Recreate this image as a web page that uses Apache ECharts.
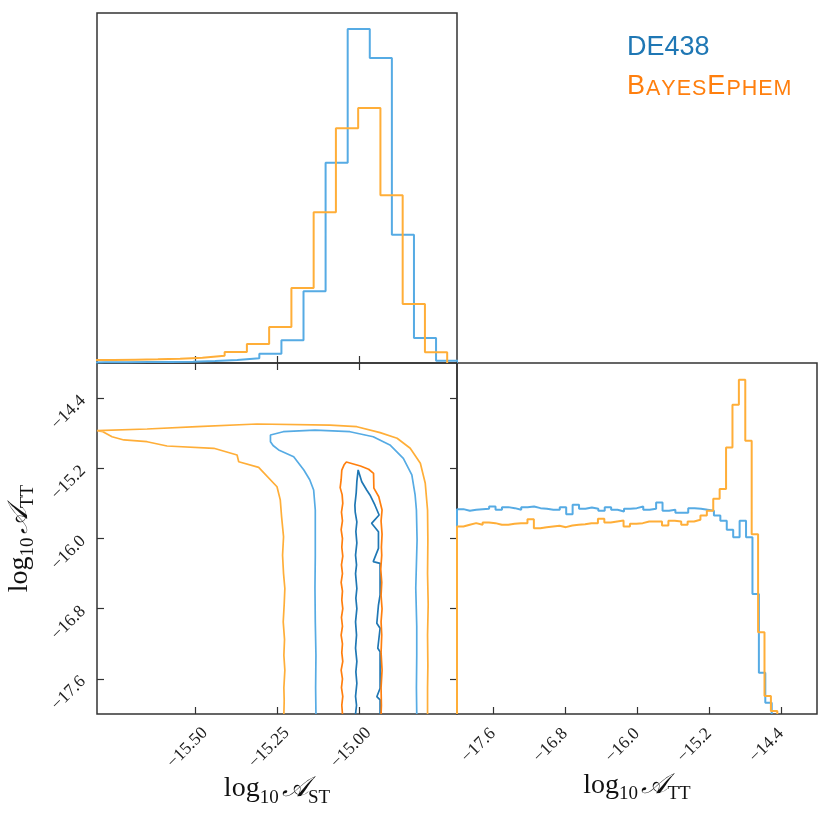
<!DOCTYPE html>
<html>
<head>
    <meta charset="utf-8">
    <title>corner</title>
    <script src="https://cdn.jsdelivr.net/npm/echarts@6/dist/echarts.min.js"></script>
    <style>
        html, body { margin: 0; padding: 0; background: #fff; }
        #chart { width: 830px; height: 818px; }
    </style>
</head>
<body>
    <div id="chart"></div>
    <script>
        // axis ranges and ticks
        var stRange = [-15.8, -14.7];
        var ttRange = [-18, -14];
        var stTicks = [-15.5, -15.25, -15.0];
        var ttTicks = [-17.6, -16.8, -16.0, -15.2, -14.4];

        // 1D histogram of log10 A_ST (bin start, bin width, heights)
        var stBlueBins = [-15.844, 0.0675];
        var stBlue = [2, 2, 3, 3, 4, 6, 9, 14, 28, 68, 215, 601, 1002, 915, 385, 75, 7];
        var stOrangeBins = [-15.818, 0.068];
        var stOrange = [9, 10, 11, 13, 16, 22, 33, 57, 108, 225, 452, 704, 765, 503, 177, 32];

        // 1D histogram of log10 A_TT (bin start, bin end, heights)
        var ttBlueBins = [-18, -14.503];
        var ttBlue = [614, 609, 612, 614, 615, 622, 612, 620, 617, 612, 620, 622, 617, 615, 612, 612, 620, 599, 627, 615,
            619, 615, 609, 620, 612, 607, 615, 617, 622, 612, 615, 634, 609, 612, 603, 603, 617, 615, 612, 609,
            595, 579, 552, 530, 579, 530, 360, 124, 34];
        var ttOrangeBins = [-18, -14.441];
        var ttOrange = [562, 567, 572, 567, 574, 572, 567, 567, 570, 572, 572, 584, 557, 560, 562, 564, 560, 565, 567, 569,
            572, 572, 585, 574, 577, 580, 562, 570, 572, 577, 577, 577, 565, 579, 577, 567, 577, 582, 595, 609,
            645, 674, 799, 927, 1002, 819, 539, 245, 54, 9];

        // 2D contours [log10 A_ST, log10 A_TT]
        var blueOuter = [[-15.131, -18.0], [-15.132, -17.70], [-15.131, -17.33], [-15.133, -16.95], [-15.134, -16.56],
            [-15.133, -16.20], [-15.133, -15.80], [-15.133, -15.675], [-15.138, -15.447], [-15.150, -15.33],
            [-15.168, -15.219], [-15.199, -15.068], [-15.245, -14.991], [-15.262, -14.94], [-15.270, -14.897],
            [-15.270, -14.821], [-15.231, -14.783], [-15.134, -14.764], [-15.027, -14.783], [-14.956, -14.840],
            [-14.905, -14.934], [-14.864, -15.086], [-14.838, -15.276], [-14.828, -15.504], [-14.824, -15.675],
            [-14.822, -16.017], [-14.826, -16.564], [-14.823, -17.0], [-14.823, -17.328], [-14.824, -17.70], [-14.823, -18.0]];
        var blueInner = [[-15.010, -18.00], [-15.007, -17.90], [-15.010, -17.80], [-15.006, -17.65], [-15.009, -17.52],
            [-15.006, -17.40], [-15.010, -17.25], [-15.007, -17.10], [-15.010, -16.95], [-15.006, -16.80],
            [-15.009, -16.68], [-15.006, -16.57], [-15.010, -16.40], [-15.007, -16.30], [-15.010, -16.19],
            [-15.006, -16.05], [-15.009, -15.92], [-15.006, -15.81], [-15.011, -15.70], [-15.012, -15.62],
            [-15.008, -15.48], [-15.006, -15.35], [-15.002, -15.219], [-14.991, -15.353], [-14.976, -15.447],
            [-14.966, -15.504], [-14.951, -15.618], [-14.938, -15.732], [-14.961, -15.827], [-14.940, -15.923],
            [-14.940, -16.112], [-14.956, -16.264], [-14.935, -16.283], [-14.935, -16.644], [-14.940, -16.758],
            [-14.945, -16.966], [-14.935, -17.023], [-14.942, -17.251], [-14.935, -17.290], [-14.935, -17.707],
            [-14.945, -17.803], [-14.935, -17.840], [-14.935, -18.0]];
        var orangeOuter = [[-15.229, -18.0], [-15.228, -17.85], [-15.229, -17.70], [-15.226, -17.50], [-15.229, -17.33],
            [-15.227, -17.15], [-15.231, -16.95], [-15.228, -16.75], [-15.226, -16.57], [-15.230, -16.40],
            [-15.233, -16.19], [-15.230, -15.98], [-15.236, -15.75], [-15.240, -15.56], [-15.250, -15.41],
            [-15.306, -15.189], [-15.367, -15.125], [-15.372, -15.048], [-15.443, -14.972], [-15.586, -14.946],
            [-15.647, -14.897], [-15.718, -14.877], [-15.754, -14.840], [-15.782, -14.783], [-15.80, -14.771],
            [-15.647, -14.752], [-15.494, -14.726], [-15.311, -14.695], [-15.088, -14.707], [-15.006, -14.726],
            [-14.935, -14.794], [-14.883, -14.858], [-14.843, -14.972], [-14.812, -15.143], [-14.797, -15.371],
            [-14.790, -15.675], [-14.789, -16.017], [-14.790, -16.40], [-14.788, -16.75], [-14.790, -17.10],
            [-14.789, -17.45], [-14.790, -17.704], [-14.790, -18.0]];
        var orangeInner = [[-15.050, -18.00], [-15.052, -17.90], [-15.049, -17.80], [-15.053, -17.70], [-15.050, -17.60],
            [-15.054, -17.50], [-15.049, -17.40], [-15.052, -17.30], [-15.050, -17.20], [-15.054, -17.10],
            [-15.050, -17.00], [-15.053, -16.90], [-15.049, -16.80], [-15.052, -16.70], [-15.050, -16.60],
            [-15.054, -16.50], [-15.050, -16.40], [-15.053, -16.30], [-15.049, -16.20], [-15.052, -16.10],
            [-15.050, -16.00], [-15.054, -15.90], [-15.050, -15.80], [-15.053, -15.70], [-15.049, -15.60],
            [-15.051, -15.50], [-15.057, -15.42], [-15.054, -15.33], [-15.052, -15.22], [-15.045, -15.16],
            [-15.038, -15.128], [-14.995, -15.174], [-14.970, -15.211], [-14.955, -15.257], [-14.954, -15.425],
            [-14.939, -15.524], [-14.929, -15.675], [-14.932, -15.80], [-14.929, -15.95], [-14.931, -16.10],
            [-14.930, -16.19], [-14.933, -16.35], [-14.930, -16.50], [-14.932, -16.65], [-14.929, -16.80],
            [-14.932, -16.95], [-14.930, -17.10], [-14.932, -17.30], [-14.929, -17.50], [-14.932, -17.70],
            [-14.931, -17.90], [-14.932, -18.0]];

        var legendNames = ['DE438', 'BayesEphem'];

        var blueLight = '#56abe4', blueDark = '#1f77b4';
        var orangeLight = '#ffae38', orangeDark = '#ff7f0e';
        var frame = '#333333';
        var serif = 'Liberation Serif';

        // step outline of a histogram: points at the left bin edges
        function stepPoints(start, width, vals) {
            var pts = [[start, 0]];
            for (var i = 0; i < vals.length; i++) {
                pts.push([start + i * width, vals[i]]);
            }
            pts.push([start + vals.length * width, 0]);
            return pts;
        }

        function minus(d) {
            return function (v) { return '\u2212' + Math.abs(v).toFixed(d); };
        }

        // small caps: capitals big, the rest as smaller capitals
        function smallCaps(word) {
            var out = '';
            for (var i = 0; i < word.length; i++) {
                var ch = word.charAt(i);
                out += ch === ch.toUpperCase() ? '{b|' + ch + '}' : '{c|' + ch.toUpperCase() + '}';
            }
            return out;
        }

        var nameRich = {
            n: { fontFamily: serif, fontSize: 28, color: '#111' },
            a: { fontFamily: serif, fontSize: 28, color: '#111', fontStyle: 'italic' },
            s: { fontFamily: serif, fontSize: 19, color: '#111', padding: [18, 0, 0, 0] }
        };

        var tickStyle = { show: true, inside: true, length: 7, lineStyle: { color: frame, width: 1.2 } };

        function lineSeries(xi, yi, data, color, width, step) {
            return {
                type: 'line',
                xAxisIndex: xi,
                yAxisIndex: yi,
                data: data,
                step: step || false,
                symbol: 'none',
                lineStyle: { color: color, width: width },
                animation: false,
                silent: true
            };
        }

        function panel(left, top, w, h) {
            return {
                left: left, top: top, width: w, height: h, show: true,
                borderColor: frame, borderWidth: 1.5, backgroundColor: 'transparent',
                containLabel: false, outerBoundsMode: 'none'
            };
        }

        var myChart = echarts.init(document.getElementById('chart'));
        var option = {
            backgroundColor: '#fff',
            animation: false,
            grid: [
                panel(97, 13, 360, 350),
                panel(97, 363, 360, 351),
                panel(457, 363, 360, 351)
            ],
            xAxis: [
                {
                    gridIndex: 0, type: 'value', min: stRange[0], max: stRange[1],
                    axisLine: { show: false }, splitLine: { show: false },
                    axisTick: Object.assign({ customValues: stTicks }, tickStyle),
                    axisLabel: { show: false }
                },
                {
                    gridIndex: 1, type: 'value', min: stRange[0], max: stRange[1], position: 'bottom',
                    axisLine: { show: false }, splitLine: { show: false },
                    axisTick: Object.assign({ customValues: stTicks }, tickStyle),
                    axisLabel: {
                        customValues: stTicks, formatter: minus(2), rotate: 45, margin: 26,
                        align: 'center', verticalAlign: 'middle', padding: [0, 22, 0, 0],
                        fontFamily: serif, fontSize: 17.5, color: '#222'
                    },
                    name: '{n|log}{s|10} {a|\uD835\uDC9C}{s|ST}', nameLocation: 'middle', nameGap: 53,
                    nameTextStyle: { rich: nameRich }
                },
                {
                    gridIndex: 1, type: 'value', min: stRange[0], max: stRange[1], position: 'top',
                    axisLine: { show: false }, splitLine: { show: false },
                    axisTick: Object.assign({ customValues: stTicks }, tickStyle),
                    axisLabel: { show: false }
                },
                {
                    gridIndex: 2, type: 'value', min: ttRange[0], max: ttRange[1], position: 'bottom',
                    axisLine: { show: false }, splitLine: { show: false },
                    axisTick: Object.assign({ customValues: ttTicks }, tickStyle),
                    axisLabel: {
                        customValues: ttTicks, formatter: minus(1), rotate: 45, margin: 17,
                        align: 'right', verticalAlign: 'middle',
                        fontFamily: serif, fontSize: 17.5, color: '#222'
                    },
                    name: '{n|log}{s|10} {a|\uD835\uDC9C}{s|TT}', nameLocation: 'middle', nameGap: 53,
                    nameTextStyle: { rich: nameRich }
                }
            ],
            yAxis: [
                { gridIndex: 0, type: 'value', min: 0, max: 1050, show: false },
                {
                    gridIndex: 1, type: 'value', min: ttRange[0], max: ttRange[1], position: 'left',
                    axisLine: { show: false }, splitLine: { show: false },
                    axisTick: Object.assign({ customValues: ttTicks }, tickStyle),
                    axisLabel: {
                        customValues: ttTicks, formatter: minus(1), rotate: 45, margin: 14,
                        align: 'right', verticalAlign: 'middle',
                        fontFamily: serif, fontSize: 17.5, color: '#222'
                    },
                    name: '{n|log}{s|10} {a|\uD835\uDC9C}{s|TT}', nameLocation: 'middle', nameGap: 59, nameRotate: 90,
                    nameTextStyle: { rich: nameRich }
                },
                {
                    gridIndex: 1, type: 'value', min: ttRange[0], max: ttRange[1], position: 'right',
                    axisLine: { show: false }, splitLine: { show: false },
                    axisTick: Object.assign({ customValues: ttTicks }, tickStyle),
                    axisLabel: { show: false }
                },
                { gridIndex: 2, type: 'value', min: 0, max: 1052, show: false }
            ],
            graphic: [
                {
                    type: 'text', x: 627, y: 48, silent: true,
                    style: { text: legendNames[0], fontFamily: 'Liberation Sans', fontSize: 27, fill: blueDark, align: 'left', verticalAlign: 'middle' }
                },
                {
                    type: 'text', x: 627, y: 87, silent: true,
                    style: {
                        text: smallCaps(legendNames[1]), align: 'left', verticalAlign: 'middle',
                        rich: {
                            b: { fontFamily: 'Liberation Sans', fontSize: 27, fill: orangeDark, padding: [0, 1, 0, 0] },
                            c: { fontFamily: 'Liberation Sans', fontSize: 21.5, fill: orangeDark, padding: [4, 1, 0, 0] }
                        }
                    }
                }
            ],
            series: [
                lineSeries(0, 0, stepPoints(stBlueBins[0], stBlueBins[1], stBlue), blueLight, 2, 'end'),
                lineSeries(0, 0, stepPoints(stOrangeBins[0], stOrangeBins[1], stOrange), orangeLight, 2, 'end'),
                lineSeries(1, 1, blueOuter, blueLight, 1.7),
                lineSeries(1, 1, blueInner, blueDark, 1.7),
                lineSeries(1, 1, orangeOuter, orangeLight, 1.7),
                lineSeries(1, 1, orangeInner, orangeDark, 1.7),
                lineSeries(3, 3, stepPoints(ttBlueBins[0], (ttBlueBins[1] - ttBlueBins[0]) / ttBlue.length, ttBlue), blueLight, 2, 'end'),
                lineSeries(3, 3, stepPoints(ttOrangeBins[0], (ttOrangeBins[1] - ttOrangeBins[0]) / ttOrange.length, ttOrange), orangeLight, 2, 'end')
            ]
        };
        myChart.setOption(option);
    </script>
</body>
</html>
